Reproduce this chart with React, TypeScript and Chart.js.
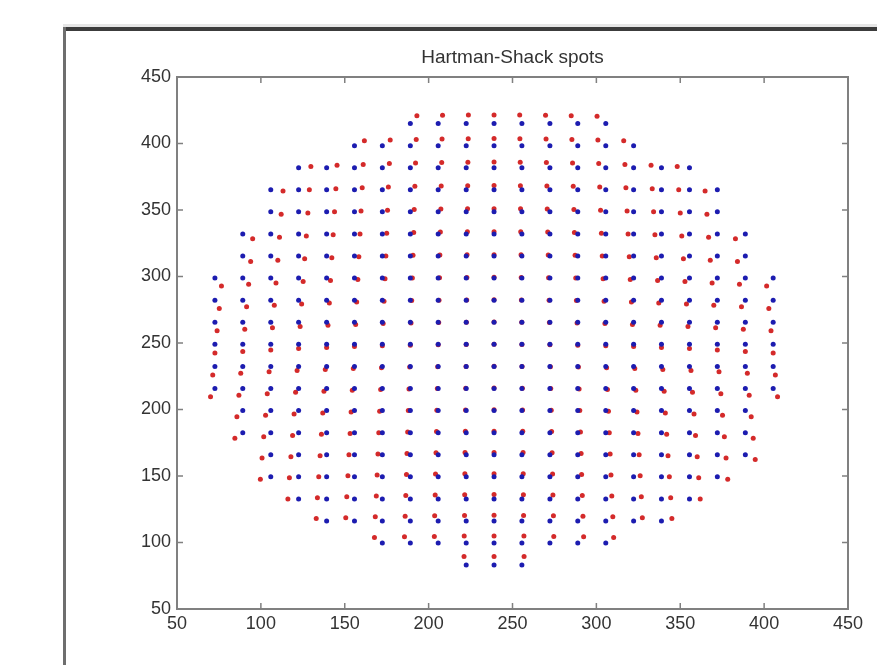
import React, { useEffect, useRef } from "react";
import { Chart, registerables } from "chart.js";

Chart.register(...registerables);

const chartTitle = "Hartman-Shack spots";
const axisMin = 50;
const axisMax = 450;
const tickStep = 50;

// reference (blue) grid: column x positions and row y positions
const colX = [72.6, 89.2, 105.9, 122.5, 139.2, 155.8, 172.4, 189.1, 205.7, 222.4, 239.0, 255.6, 272.3, 288.9, 305.6, 322.2, 338.8, 355.5, 372.1, 388.8, 405.4];
const rowY = [83.0, 99.6, 116.2, 132.8, 149.4, 166.0, 182.6, 199.2, 215.8, 232.4, 249.0, 265.6, 282.2, 298.8, 315.4, 332.0, 348.6, 365.2, 381.8, 398.4, 415.0];
// first / last column present in each row (aperture)
const rowFirstCol = [9, 6, 4, 3, 2, 2, 1, 1, 0, 0, 0, 0, 0, 0, 1, 1, 2, 2, 3, 5, 7];
const rowLastCol = [11, 14, 16, 17, 18, 19, 19, 19, 20, 20, 20, 20, 20, 20, 19, 19, 18, 18, 17, 15, 14];

// measured (red) spot displacement from the reference spot, per row
const redDxRows = [
  [-1.3, 0, 1.3],
  [-4.7, -3.5, -2.3, -1.2, 0, 1.2, 2.3, 3.5, 4.7],
  [-6.2, -5.2, -4.2, -3.1, -2.1, -1.0, 0, 1.0, 2.1, 3.1, 4.2, 5.2, 6.2],
  [-6.4, -5.5, -4.6, -3.6, -2.7, -1.8, -0.9, 0, 0.9, 1.8, 2.7, 3.6, 4.6, 5.5, 6.4],
  [-6.2, -5.5, -4.7, -3.9, -3.1, -2.3, -1.6, -0.8, 0, 0.8, 1.6, 2.3, 3.1, 3.9, 4.7, 5.5, 6.2],
  [-5.2, -4.6, -3.9, -3.3, -2.6, -2.0, -1.3, -0.7, 0, 0.7, 1.3, 2.0, 2.6, 3.3, 3.9, 4.6, 5.2, 5.9],
  [-4.7, -4.2, -3.6, -3.1, -2.6, -2.1, -1.6, -1.0, -0.5, 0, 0.5, 1.0, 1.6, 2.1, 2.6, 3.1, 3.6, 4.2, 4.7],
  [-3.5, -3.1, -2.7, -2.3, -2.0, -1.6, -1.2, -0.8, -0.4, 0, 0.4, 0.8, 1.2, 1.6, 2.0, 2.3, 2.7, 3.1, 3.5],
  [-2.6, -2.3, -2.1, -1.8, -1.6, -1.3, -1.0, -0.8, -0.5, -0.3, 0, 0.3, 0.5, 0.8, 1.0, 1.3, 1.6, 1.8, 2.1, 2.3, 2.6],
  [-1.3, -1.2, -1.0, -0.9, -0.8, -0.7, -0.5, -0.4, -0.3, -0.1, 0, 0.1, 0.3, 0.4, 0.5, 0.7, 0.8, 0.9, 1.0, 1.2, 1.3],
  [0, 0, 0, 0, 0, 0, 0, 0, 0, 0, 0, 0, 0, 0, 0, 0, 0, 0, 0, 0, 0],
  [1.3, 1.2, 1.0, 0.9, 0.8, 0.7, 0.5, 0.4, 0.3, 0.1, 0, -0.1, -0.3, -0.4, -0.5, -0.7, -0.8, -0.9, -1.0, -1.2, -1.3],
  [2.6, 2.3, 2.1, 1.8, 1.6, 1.3, 1.0, 0.8, 0.5, 0.3, 0, -0.3, -0.5, -0.8, -1.0, -1.3, -1.6, -1.8, -2.1, -2.3, -2.6],
  [3.9, 3.5, 3.1, 2.7, 2.3, 2.0, 1.6, 1.2, 0.8, 0.4, 0, -0.4, -0.8, -1.2, -1.6, -2.0, -2.3, -2.7, -3.1, -3.5, -3.9],
  [4.7, 4.2, 3.6, 3.1, 2.6, 2.1, 1.6, 1.0, 0.5, 0, -0.5, -1.0, -1.6, -2.1, -2.6, -3.1, -3.6, -4.2, -4.7],
  [5.9, 5.2, 4.6, 3.9, 3.3, 2.6, 2.0, 1.3, 0.7, 0, -0.7, -1.3, -2.0, -2.6, -3.3, -3.9, -4.6, -5.2, -5.9],
  [6.2, 5.5, 4.7, 3.9, 3.1, 2.3, 1.6, 0.8, 0, -0.8, -1.6, -2.3, -3.1, -3.9, -4.7, -5.5, -6.2],
  [7.3, 6.4, 5.5, 4.6, 3.6, 2.7, 1.8, 0.9, 0, -0.9, -1.8, -2.7, -3.6, -4.6, -5.5, -6.4, -7.3],
  [7.3, 6.2, 5.2, 4.2, 3.1, 2.1, 1.0, 0, -1.0, -2.1, -3.1, -4.2, -5.2, -6.2, -7.3],
  [5.9, 4.7, 3.5, 2.3, 1.2, 0, -1.2, -2.3, -3.5, -4.7, -5.9],
  [3.9, 2.6, 1.3, 0, -1.3, -2.6, -3.9, -5.2],
];
const redDyRows = [
  [6.4, 6.5, 6.4],
  [4.2, 4.7, 5.0, 5.2, 5.3, 5.2, 5.0, 4.7, 4.2],
  [1.8, 2.5, 3.1, 3.6, 3.9, 4.1, 4.2, 4.1, 3.9, 3.6, 3.1, 2.5, 1.8],
  [0, 0.8, 1.6, 2.1, 2.6, 2.9, 3.1, 3.2, 3.1, 2.9, 2.6, 2.1, 1.6, 0.8, 0],
  [-1.8, -0.8, 0, 0.7, 1.3, 1.8, 2.1, 2.3, 2.3, 2.3, 2.1, 1.8, 1.3, 0.7, 0, -0.8, -1.8],
  [-2.5, -1.6, -0.7, 0, 0.6, 1.0, 1.4, 1.6, 1.6, 1.6, 1.4, 1.0, 0.6, 0, -0.7, -1.6, -2.5, -3.6],
  [-4.2, -3.1, -2.1, -1.3, -0.6, 0, 0.5, 0.8, 1.0, 1.0, 1.0, 0.8, 0.5, 0, -0.6, -1.3, -2.1, -3.1, -4.2],
  [-4.7, -3.6, -2.6, -1.8, -1.0, -0.5, 0, 0.3, 0.5, 0.6, 0.5, 0.3, 0, -0.5, -1.0, -1.8, -2.6, -3.6, -4.7],
  [-6.2, -5.0, -3.9, -2.9, -2.1, -1.4, -0.8, -0.3, 0, 0.2, 0.3, 0.2, 0, -0.3, -0.8, -1.4, -2.1, -2.9, -3.9, -5.0, -6.2],
  [-6.4, -5.2, -4.1, -3.1, -2.3, -1.6, -1.0, -0.5, -0.2, 0, 0.1, 0, -0.2, -0.5, -1.0, -1.6, -2.3, -3.1, -4.1, -5.2, -6.4],
  [-6.5, -5.3, -4.2, -3.2, -2.3, -1.6, -1.0, -0.6, -0.3, -0.1, 0, -0.1, -0.3, -0.6, -1.0, -1.6, -2.3, -3.2, -4.2, -5.3, -6.5],
  [-6.4, -5.2, -4.1, -3.1, -2.3, -1.6, -1.0, -0.5, -0.2, 0, 0.1, 0, -0.2, -0.5, -1.0, -1.6, -2.3, -3.1, -4.1, -5.2, -6.4],
  [-6.2, -5.0, -3.9, -2.9, -2.1, -1.4, -0.8, -0.3, 0, 0.2, 0.3, 0.2, 0, -0.3, -0.8, -1.4, -2.1, -2.9, -3.9, -5.0, -6.2],
  [-5.9, -4.7, -3.6, -2.6, -1.8, -1.0, -0.5, 0, 0.3, 0.5, 0.6, 0.5, 0.3, 0, -0.5, -1.0, -1.8, -2.6, -3.6, -4.7, -5.9],
  [-4.2, -3.1, -2.1, -1.3, -0.6, 0, 0.5, 0.8, 1.0, 1.0, 1.0, 0.8, 0.5, 0, -0.6, -1.3, -2.1, -3.1, -4.2],
  [-3.6, -2.5, -1.6, -0.7, 0, 0.6, 1.0, 1.4, 1.6, 1.6, 1.6, 1.4, 1.0, 0.6, 0, -0.7, -1.6, -2.5, -3.6],
  [-1.8, -0.8, 0, 0.7, 1.3, 1.8, 2.1, 2.3, 2.3, 2.3, 2.1, 1.8, 1.3, 0.7, 0, -0.8, -1.8],
  [-1.0, 0, 0.8, 1.6, 2.1, 2.6, 2.9, 3.1, 3.2, 3.1, 2.9, 2.6, 2.1, 1.6, 0.8, 0, -1.0],
  [1.0, 1.8, 2.5, 3.1, 3.6, 3.9, 4.1, 4.2, 4.1, 3.9, 3.6, 3.1, 2.5, 1.8, 1.0],
  [3.6, 4.2, 4.7, 5.0, 5.2, 5.3, 5.2, 5.0, 4.7, 4.2, 3.6],
  [5.9, 6.2, 6.4, 6.5, 6.4, 6.2, 5.9, 5.5],
];

const FONT = '"Liberation Sans", Arial, sans-serif';
const TEXT_COLOR = "#333333";

const matlabFrame = {
  id: "matlabFrame",
  beforeDraw(chart: any) {
    const ctx = chart.ctx;
    const { left, right } = chart.chartArea;
    ctx.save();
    ctx.fillStyle = "#ffffff";
    ctx.fillRect(0, 0, chart.width, chart.height);
    // figure window frame
    ctx.fillStyle = "#e6e6e6";
    ctx.fillRect(63, 24, chart.width - 63, 3);
    ctx.fillStyle = "#3c3c3c";
    ctx.fillRect(63, 27, chart.width - 63, 4);
    ctx.fillStyle = "#6e6e6e";
    ctx.fillRect(63, 27, 3, chart.height - 27);
    // title
    ctx.fillStyle = TEXT_COLOR;
    ctx.font = `19px ${FONT}`;
    ctx.textAlign = "center";
    ctx.textBaseline = "middle";
    ctx.fillText(chartTitle, (left + right) / 2, 58);
    ctx.restore();
  },
  afterDraw(chart: any) {
    const ctx = chart.ctx;
    const { left, right, top, bottom } = chart.chartArea;
    const xs = chart.scales.x;
    const ys = chart.scales.y;
    ctx.save();
    ctx.strokeStyle = "#808080";
    ctx.lineWidth = 2;
    ctx.strokeRect(left, top, right - left, bottom - top);
    ctx.lineWidth = 1.5;
    ctx.beginPath();
    const len = 6;
    for (let v = axisMin; v <= axisMax; v += tickStep) {
      const px = xs.getPixelForValue(v);
      ctx.moveTo(px, bottom);
      ctx.lineTo(px, bottom - len);
      ctx.moveTo(px, top);
      ctx.lineTo(px, top + len);
      const py = ys.getPixelForValue(v);
      ctx.moveTo(left, py);
      ctx.lineTo(left + len, py);
      ctx.moveTo(right, py);
      ctx.lineTo(right - len, py);
    }
    ctx.stroke();
    ctx.restore();
  },
};

export default function App() {
  const ref = useRef<HTMLCanvasElement | null>(null);
  useEffect(() => {
    if (!ref.current) return;
    const bluePts: { x: number; y: number }[] = [];
    const redPts: { x: number; y: number }[] = [];
    rowY.forEach((y, j) => {
      for (let i = rowFirstCol[j]; i <= rowLastCol[j]; i++) {
        const k = i - rowFirstCol[j];
        bluePts.push({ x: colX[i], y });
        redPts.push({ x: colX[i] + redDxRows[j][k], y: y + redDyRows[j][k] });
      }
    });
    const tickFont = { family: FONT, size: 18 };
    const chart = new Chart(ref.current, {
      type: "scatter",
      data: {
        datasets: [
          {
            label: "reference",
            data: bluePts,
            backgroundColor: "#1c1cb0",
            borderWidth: 0,
            pointRadius: 2.5,
            pointStyle: "circle",
            order: 0,
          },
          {
            label: "measured",
            data: redPts,
            backgroundColor: "#d42a2a",
            borderWidth: 0,
            pointRadius: 2.5,
            pointStyle: "circle",
            order: 1,
          },
        ],
      },
      options: {
        responsive: false,
        animation: false,
        events: [],
        layout: { padding: { left: 120, right: 29, top: 77, bottom: 26 } },
        plugins: {
          legend: { display: false },
          title: { display: false },
          tooltip: { enabled: false },
        },
        scales: {
          x: {
            type: "linear",
            min: axisMin,
            max: axisMax,
            grid: { display: false, drawTicks: false },
            border: { display: false },
            ticks: { stepSize: tickStep, font: tickFont, color: TEXT_COLOR, padding: 4, maxRotation: 0 },
            afterFit: (s: any) => {
              s.height = 30;
            },
          },
          y: {
            type: "linear",
            min: axisMin,
            max: axisMax,
            grid: { display: false, drawTicks: false },
            border: { display: false },
            ticks: { stepSize: tickStep, font: tickFont, color: TEXT_COLOR, padding: 6 },
            afterFit: (s: any) => {
              s.width = 57;
            },
          },
        },
      },
      plugins: [matlabFrame],
    });
    return () => chart.destroy();
  }, []);
  return (
    <div style={{ position: "absolute", left: 0, top: 0, width: 877, height: 665 }}>
      <canvas ref={ref} width={877} height={665} style={{ display: "block" }} />
    </div>
  );
}
